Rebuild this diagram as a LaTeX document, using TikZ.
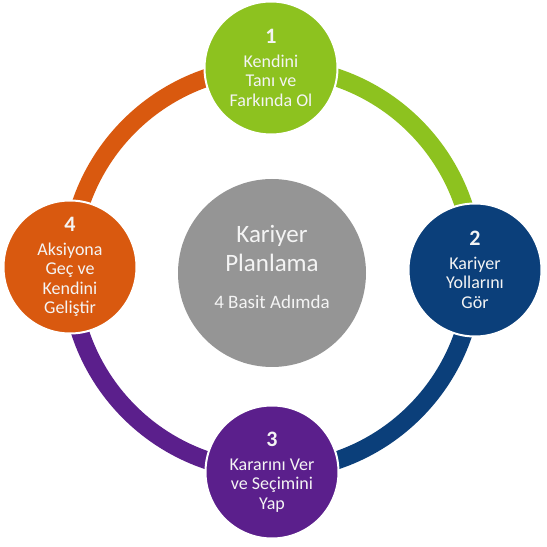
\documentclass[tikz,border=0pt]{standalone}
\usepackage{fontspec}
\setmainfont{Carlito}
\definecolor{cgreen}{HTML}{8DC21F}
\definecolor{cblue}{HTML}{0B3F7A}
\definecolor{cpurple}{HTML}{5B1F8C}
\definecolor{corange}{HTML}{D9590F}
\definecolor{cgray}{HTML}{959595}
\definecolor{ctext}{HTML}{F4F4F4}
\begin{document}
\begin{tikzpicture}[x=1pt,y=1pt,
  stepcircle/.style={circle, draw=white, line width=2pt, minimum size=133pt, inner sep=0pt,
    text=ctext, align=center, font=\fontsize{18}{19.5}\selectfont},
  ringarc/.style={line width=18pt}]
\newcommand{\stepnum}[1]{{\fontsize{22}{24}\selectfont\bfseries #1}}
\useasboundingbox (0,0) rectangle (547,547);
\coordinate (O) at (272,278);
% ring arcs
\draw[ringarc, corange] (O) ++(180:202) arc[start angle=180, end angle=90, radius=202];
\draw[ringarc, cgreen] (O) ++(90:202) arc[start angle=90, end angle=0, radius=202];
\draw[ringarc, cblue] (O) ++(0:202) arc[start angle=360, end angle=270, radius=202];
\draw[ringarc, cpurple] (O) ++(270:202) arc[start angle=270, end angle=180, radius=202];
% center
\node[circle, fill=cgray, minimum size=188pt, inner sep=0pt, text=ctext, align=center,
      font=\fontsize{25}{29}\selectfont] (c0) at (272,274) {};
\node[text=ctext, align=center, font=\fontsize{25}{29}\selectfont] (t0) at (272,280)
  {Kariyer\\Planlama\\[8pt]{\fontsize{19}{22}\selectfont 4 Basit Adımda}};
% step circles
\node[stepcircle, fill=cgreen] (c1) at (271,479)
  {\stepnum{1}\\[4pt]Kendini\\Tanı ve\\Farkında Ol};
\node[stepcircle, fill=cblue] (c2) at (475,277)
  {\stepnum{2}\\[4pt]Kariyer\\Yollarını\\Gör};
\node[stepcircle, fill=cpurple] (c3) at (272,75)
  {\stepnum{3}\\[4pt]Kararını Ver\\ve Seçimini\\Yap};
\node[stepcircle, fill=corange] (c4) at (70,280)
  {\stepnum{4}\\[4pt]Aksiyona\\Geç ve\\Kendini\\Geliştir};
\end{tikzpicture}
\end{document}
